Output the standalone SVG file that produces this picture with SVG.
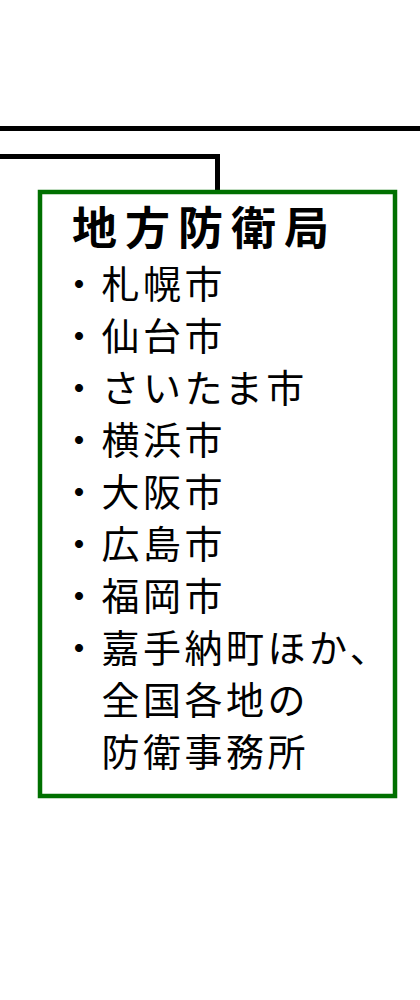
<svg xmlns="http://www.w3.org/2000/svg" width="420" height="1000" viewBox="0 0 420 1000">
<style>
.item{font-family:"Noto Sans CJK JP","Noto Sans CJK SC",sans-serif;font-size:38px;letter-spacing:3.5px;fill:#000}
.title{font-family:"Noto Sans CJK JP","Noto Sans CJK SC",sans-serif;font-size:45px;font-weight:bold;letter-spacing:8px;fill:#000}
</style>
<rect width="420" height="1000" fill="#fff"/>
<g id="connectors" fill="none" stroke="#000" stroke-width="5">
<line x1="0" y1="128.5" x2="420" y2="128.5"/>
<polyline points="0,156.5 217.5,156.5 217.5,192"/>
</g>
<g id="node-regional-defense-bureau">
<rect x="40" y="192" width="355" height="604" fill="#fff" stroke="#007000" stroke-width="4.5"/>
<text class="title" x="72" y="245">地方防衛局</text>
<text class="item" x="60" y="298">・札幌市</text>
<text class="item" x="60" y="350">・仙台市</text>
<text class="item" x="60" y="402">・さいたま市</text>
<text class="item" x="60" y="454">・横浜市</text>
<text class="item" x="60" y="506">・大阪市</text>
<text class="item" x="60" y="558">・広島市</text>
<text class="item" x="60" y="610">・福岡市</text>
<text class="item" x="60" y="662">・嘉手納町ほか、</text>
<text class="item" x="101.5" y="714">全国各地の</text>
<text class="item" x="101.5" y="766">防衛事務所</text>
</g>
</svg>
